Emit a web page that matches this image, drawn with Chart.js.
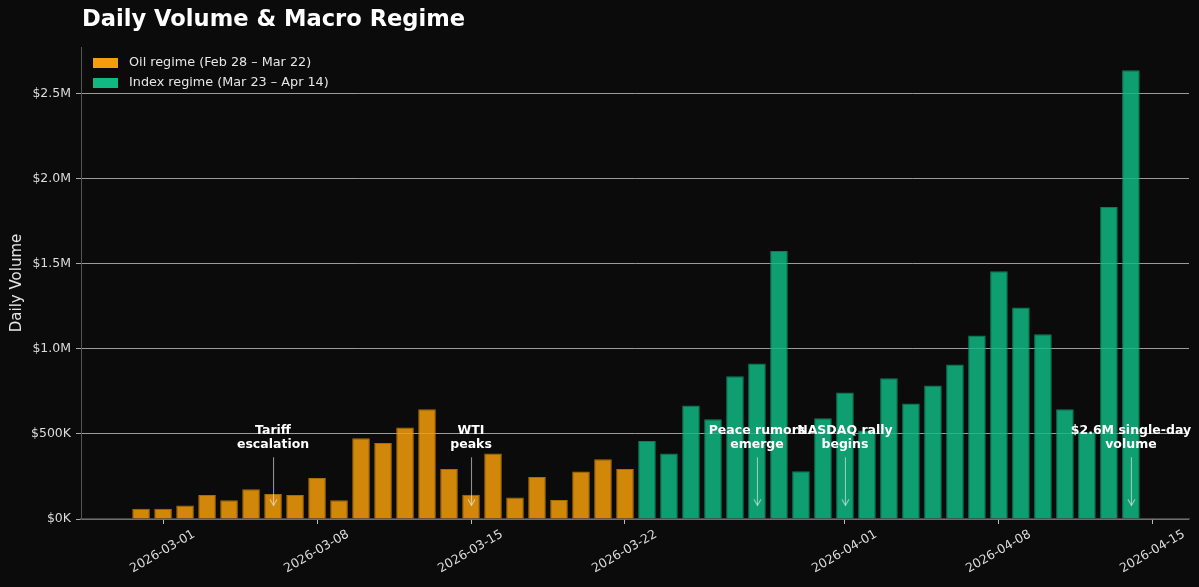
<!DOCTYPE html>
<html><head><meta charset="utf-8">
<script src="https://cdn.jsdelivr.net/npm/chart.js@4/dist/chart.umd.min.js"></script>
<style>html,body{margin:0;padding:0;background:#0b0b0b;overflow:hidden}</style>
</head><body>
<canvas id="c" width="1199" height="587"></canvas>
<script>
// ---- data ----
const oilDates = ['2026-02-28','2026-03-01','2026-03-02','2026-03-03','2026-03-04','2026-03-05','2026-03-06','2026-03-07','2026-03-08','2026-03-09','2026-03-10','2026-03-11','2026-03-12','2026-03-13','2026-03-14','2026-03-15','2026-03-16','2026-03-17','2026-03-18','2026-03-19','2026-03-20','2026-03-21','2026-03-22'];
const oilVolumes = [61000,61000,79000,141000,110000,175000,147000,141000,241000,110000,475000,447000,538000,645000,294000,143000,385000,126000,247000,112000,279000,351000,294000];
const indexDates = ['2026-03-23','2026-03-24','2026-03-25','2026-03-26','2026-03-27','2026-03-28','2026-03-29','2026-03-30','2026-03-31','2026-04-01','2026-04-02','2026-04-03','2026-04-04','2026-04-05','2026-04-06','2026-04-07','2026-04-08','2026-04-09','2026-04-10','2026-04-11','2026-04-12','2026-04-13','2026-04-14'];
const indexVolumes = [459000,385000,667000,586000,839000,914000,1576000,281000,592000,744000,520000,828000,679000,785000,908000,1079000,1457000,1244000,1086000,645000,510000,1835000,2639000];
const xTickDates = ['2026-03-01','2026-03-08','2026-03-15','2026-03-22','2026-04-01','2026-04-08','2026-04-15'];
const yTickValues = [0,500000,1000000,1500000,2000000,2500000];
const seriesNames = ['Oil regime (Feb 28 \u2013 Mar 22)','Index regime (Mar 23 \u2013 Apr 14)'];
const annotationDates = ['2026-03-06','2026-03-15','2026-03-28','2026-04-01','2026-04-14'];
const annotationLabels = [['Tariff','escalation'],['WTI','peaks'],['Peace rumors','emerge'],['NASDAQ rally','begins'],['$2.6M single-day','volume']];

// ---- helpers ----
const ORIGIN = Date.UTC(2026,2,1);
function dayNum(s){const p=s.split('-').map(Number);return (Date.UTC(p[0],p[1]-1,p[2])-ORIGIN)/86400000;}
function dayStr(v){return new Date(ORIGIN+Math.round(v)*86400000).toISOString().slice(0,10);}
function fmtMoney(v){if(v===0)return '$0K'; if(v<1e6)return '$'+Math.round(v/1000)+'K'; return '$'+(v/1e6).toFixed(1)+'M';}

const FONT='DejaVu Sans';
Chart.defaults.font.family = FONT;
const ORANGE='#F59E0B', GREEN='#10B981';

const bgPlugin={id:'bg',beforeDraw(c){const x=c.ctx;x.save();x.fillStyle='#0b0b0b';x.fillRect(0,0,c.width,c.height);x.restore();}};

const overlayPlugin={id:'overlay',afterDraw(c){
  const ctx=c.ctx, a=c.chartArea, xs=c.scales.x, ys=c.scales.y;
  ctx.save();
  // title
  ctx.fillStyle='#ffffff'; ctx.font='bold 22.6px '+FONT; ctx.textBaseline='middle'; ctx.textAlign='left';
  ctx.fillText('Daily Volume & Macro Regime', a.left+1, 20);
  // legend
  const cols=[ORANGE,GREEN];
  ctx.font='12.8px '+FONT;
  for(let i=0;i<2;i++){
    const yy=63+i*20;
    ctx.fillStyle=cols[i]; ctx.fillRect(93,yy-5,25,10);
    ctx.fillStyle='#e6e6e6'; ctx.fillText(seriesNames[i],129,yy);
  }
  // annotations
  ctx.textAlign='center';
  for(let i=0;i<annotationDates.length;i++){
    const px=xs.getPixelForValue(dayNum(annotationDates[i]));
    const ty=ys.getPixelForValue(517000);
    ctx.font='bold 12.5px '+FONT; ctx.fillStyle='#ffffff';
    annotationLabels[i].forEach((t,k)=>ctx.fillText(t,px,ty+k*14));
    const y0=ys.getPixelForValue(363000), y1=ys.getPixelForValue(80000);
    ctx.strokeStyle='rgba(235,235,235,0.6)'; ctx.lineWidth=1.1;
    ctx.beginPath(); ctx.moveTo(px+0.5,y0); ctx.lineTo(px+0.5,y1); ctx.stroke();
    ctx.beginPath(); ctx.moveTo(px+0.5-3.5,y1-6); ctx.lineTo(px+0.5,y1); ctx.lineTo(px+0.5+3.5,y1-6); ctx.stroke();
  }
  ctx.restore();
}};

new Chart(document.getElementById('c'),{
  type:'bar',
  data:{datasets:[
    {label:seriesNames[0],data:oilDates.map((d,i)=>({x:dayNum(d),y:oilVolumes[i]})),
     backgroundColor:'rgba(245,158,11,0.85)',borderColor:'rgba(190,120,5,0.9)',borderWidth:1,
     barPercentage:0.8,categoryPercentage:1,grouped:false},
    {label:seriesNames[1],data:indexDates.map((d,i)=>({x:dayNum(d),y:indexVolumes[i]})),
     backgroundColor:'rgba(16,185,129,0.85)',borderColor:'rgba(10,140,95,0.9)',borderWidth:1,
     barPercentage:0.8,categoryPercentage:1,grouped:false}
  ]},
  options:{
    responsive:false,animation:false,devicePixelRatio:1,
    layout:{padding:{top:47,right:10,left:0,bottom:0}},
    plugins:{legend:{display:false},title:{display:false},tooltip:{enabled:false}},
    scales:{
      x:{type:'linear',min:-3.73,max:46.64,offset:false,
        afterBuildTicks(s){s.ticks=xTickDates.map(d=>({value:dayNum(d)}));},
        afterFit(s){s.height=68;},
        ticks:{autoSkip:false,minRotation:30,maxRotation:30,color:'#dcdcdc',font:{size:12.5},padding:3,labelOffset:31,
          callback:(v)=>dayStr(v)},
        grid:{offset:false,drawOnChartArea:false,drawTicks:true,tickLength:5,color:'#bbbbbb'},
        border:{color:'#444444',width:1.5}},
      y:{min:0,max:2776000,
        afterBuildTicks(s){s.ticks=yTickValues.map(v=>({value:v}));},
        afterFit(s){s.width=81;},
        ticks:{color:'#dcdcdc',font:{size:12.5},padding:5,callback:(v)=>fmtMoney(v)},
        grid:{color:'rgba(210,210,210,0.72)',lineWidth:1,tickLength:5,tickColor:'#aaaaaa'},
        border:{color:'#555555',width:1},
        title:{display:true,text:'Daily Volume',color:'#e6e6e6',font:{size:15},padding:{top:8,bottom:0}}}
    }
  },
  plugins:[bgPlugin,overlayPlugin]
});
</script>
</body></html>
